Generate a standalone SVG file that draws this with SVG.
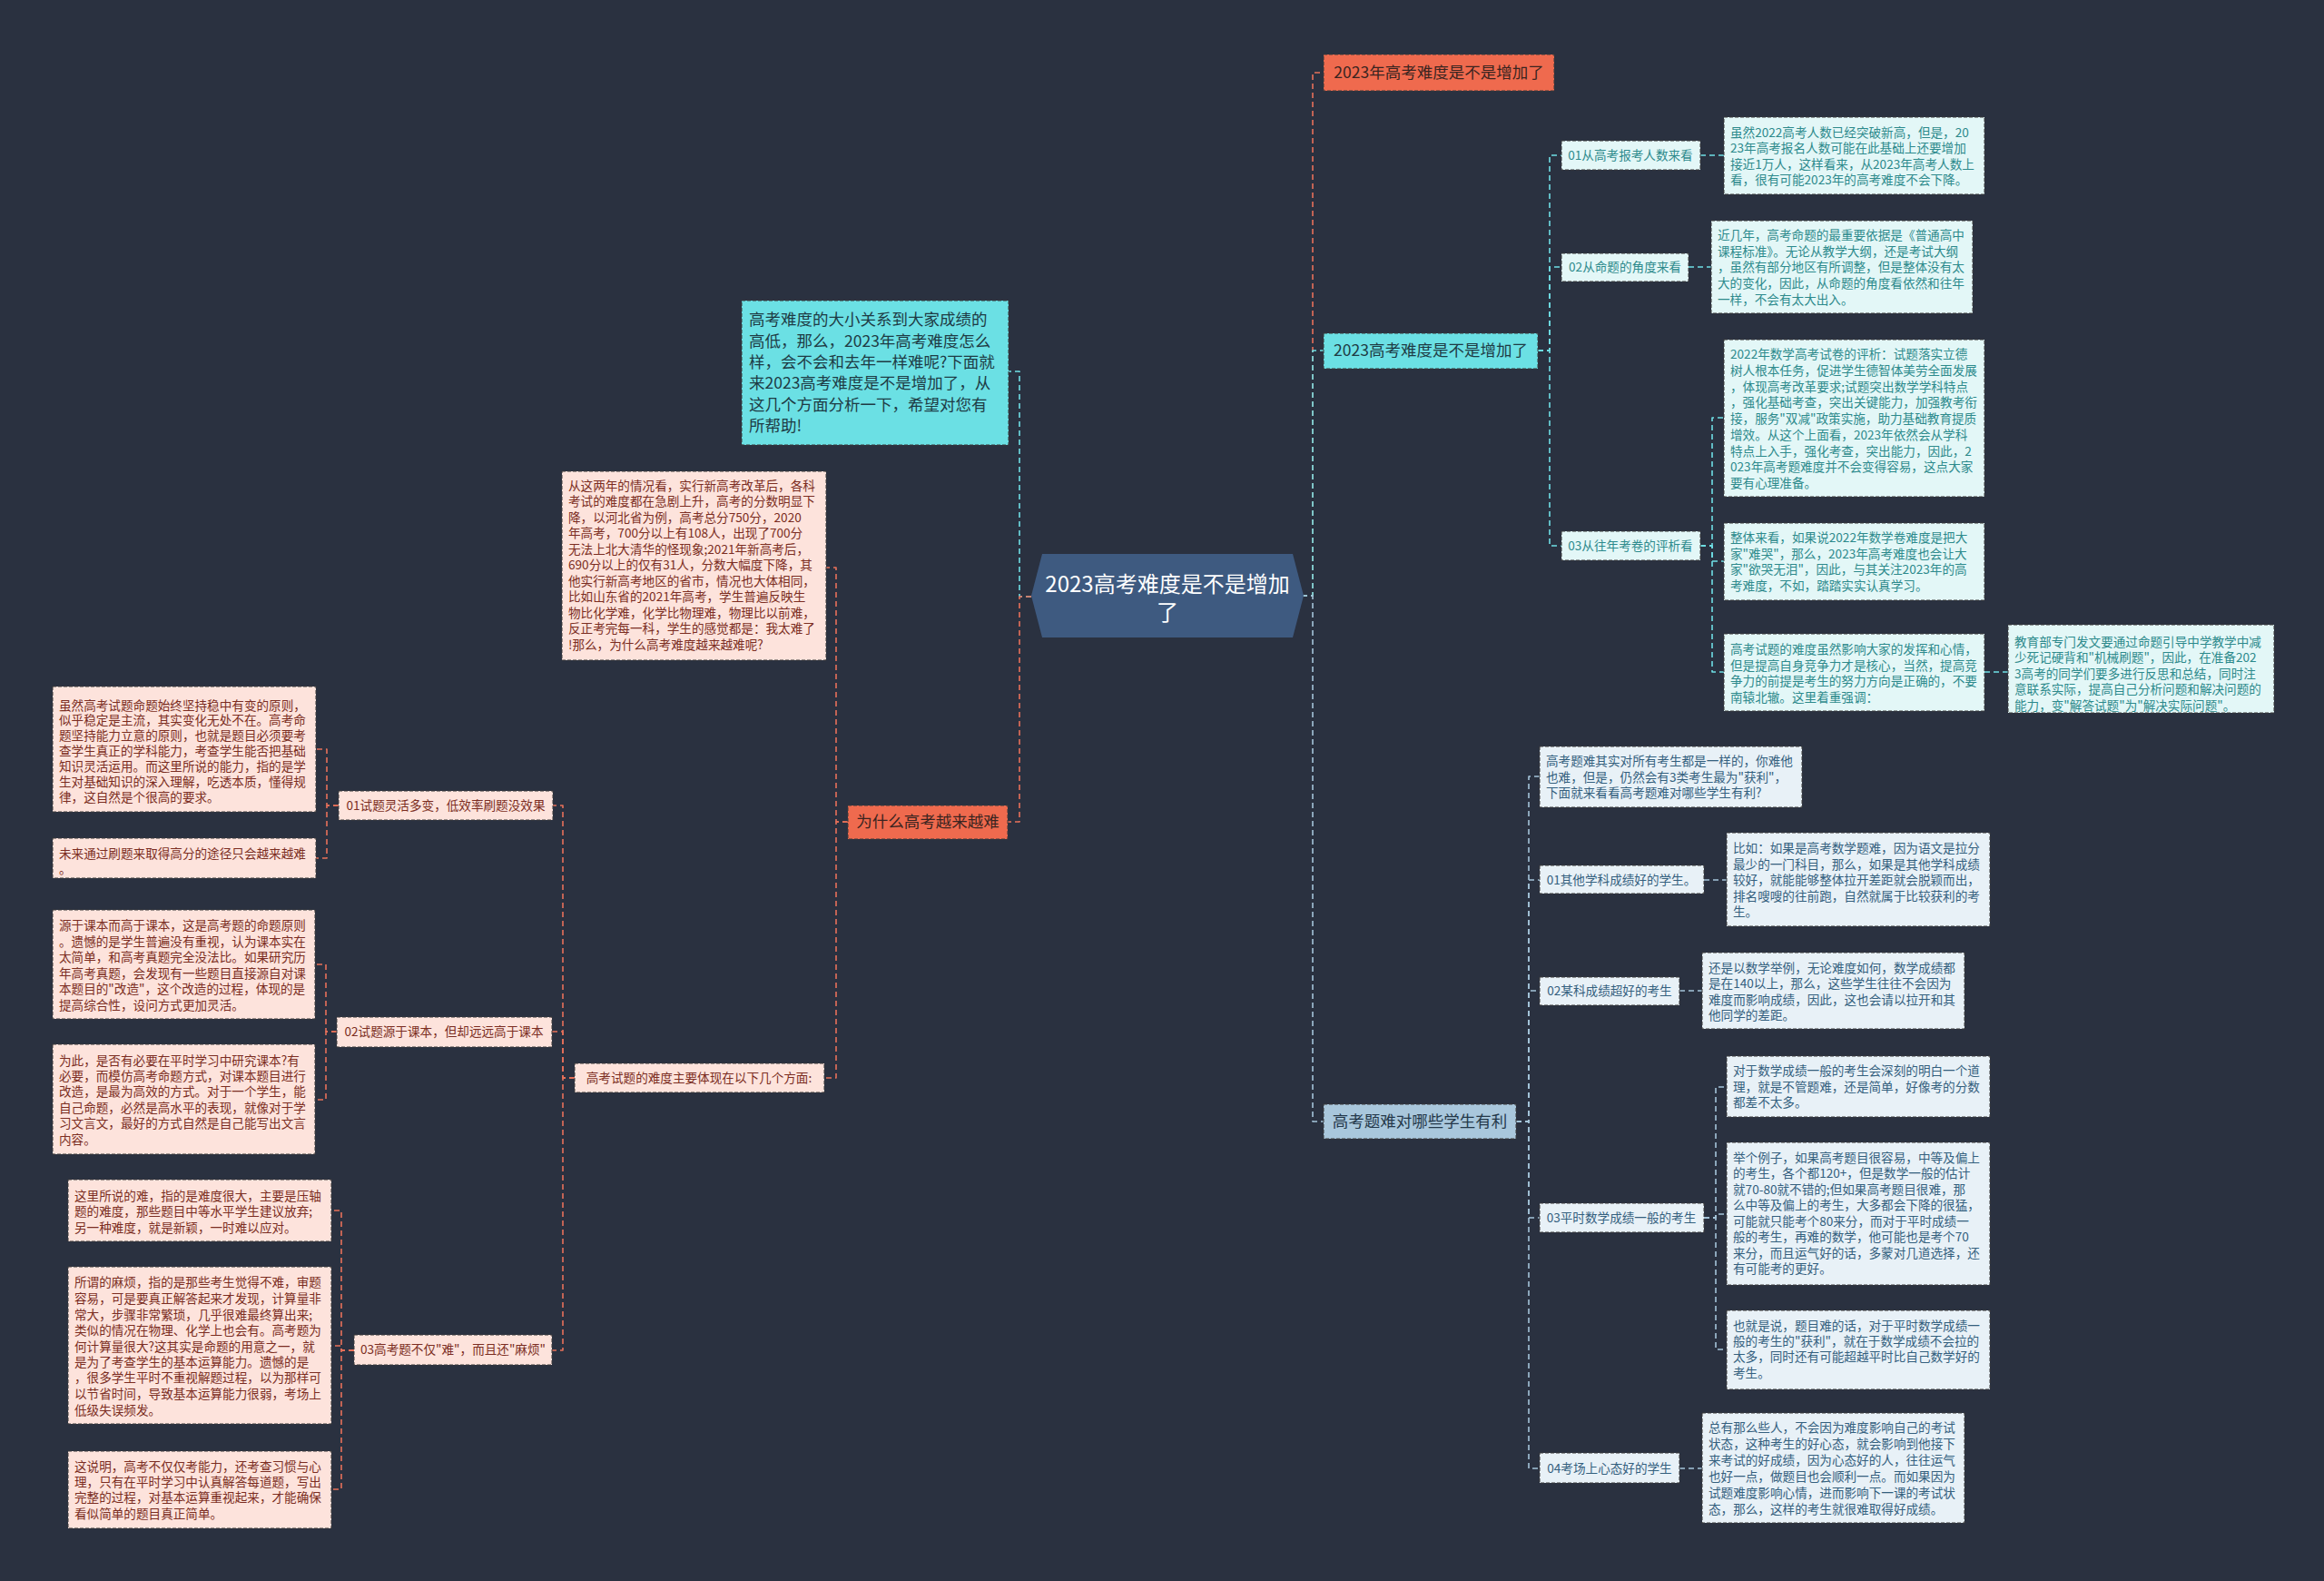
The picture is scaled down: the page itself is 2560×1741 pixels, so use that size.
<svg xmlns="http://www.w3.org/2000/svg" width="2560" height="1741" viewBox="0 0 2560 1741">
<style>
text{font-family:"Noto Sans CJK SC","Noto Sans",sans-serif;}
.c{fill:none;stroke-width:1.6;stroke-dasharray:6 4;stroke-linejoin:round;}
.co{stroke:#e8715a;}
.cc{stroke:#6fdfe5;}
.cb{stroke:#a5c5da;}
.bd{stroke:#3a3a3a;stroke-width:1;stroke-dasharray:4 2;}
.red{fill:#ef6a4e;}
.cy{fill:#6be0e4;}
.bl{fill:#a9c7dc;}
.lc{fill:#e3f7f7;}
.lp{fill:#fde3dc;}
.lb{fill:#e8f1f7;}
.tm{font-size:17.5px;}
.ts{font-size:13.6px;}
.tr{fill:#3a2420;}
.tc{fill:#1e3b44;}
.tcc{fill:#2d8a8c;}
.tp{fill:#7b2d22;}
.tbb{fill:#34607e;}
.tbm{fill:#24384a;}
</style>
<rect width="2560" height="1741" fill="#2a3140"/>

<g id="connectors">
<path class="c cc" d="M1136 657 H1123 V409 H1111"/>
<path class="c co" d="M1136 657 H1123 V905 H1110"/>
<path class="c co" d="M934 905 H921 V625 H910"/>
<path class="c co" d="M934 905 H921 V1187 H908"/>
<path class="c co" d="M633 1187 H620 V887 H609"/>
<path class="c co" d="M633 1187 H620 V1136 H608"/>
<path class="c co" d="M633 1187 H620 V1487 H608"/>
<path class="c co" d="M373 887 H360 V825 H348"/>
<path class="c co" d="M373 887 H360 V945 H348"/>
<path class="c co" d="M371 1136 H359 V1062 H347"/>
<path class="c co" d="M371 1136 H359 V1211 H347"/>
<path class="c co" d="M390 1487 H376 V1333 H365"/>
<path class="c co" d="M390 1487 H376 V1482 H365"/>
<path class="c co" d="M390 1487 H376 V1640 H365"/>
<path class="c co" d="M1434 656 H1446 V80 H1458"/>
<path class="c cc" d="M1434 656 H1446 V386 H1458"/>
<path class="c cb" d="M1434 656 H1446 V1235 H1458"/>
<path class="c cc" d="M1694 386 H1707 V171 H1720"/>
<path class="c cc" d="M1694 386 H1707 V294 H1720"/>
<path class="c cc" d="M1694 386 H1707 V601 H1720"/>
<path class="c cc" d="M1873 171 H1899"/>
<path class="c cc" d="M1860 294 H1885"/>
<path class="c cc" d="M1873 601 H1886 V460 H1899"/>
<path class="c cc" d="M1873 601 H1886 V618 H1899"/>
<path class="c cc" d="M1873 601 H1886 V740 H1899"/>
<path class="c cc" d="M2186 740 H2212"/>
<path class="c cb" d="M1670 1235 H1684 V855 H1696"/>
<path class="c cb" d="M1670 1235 H1684 V969 H1696"/>
<path class="c cb" d="M1670 1235 H1684 V1091 H1696"/>
<path class="c cb" d="M1670 1235 H1684 V1341 H1696"/>
<path class="c cb" d="M1670 1235 H1684 V1617 H1696"/>
<path class="c cb" d="M1877 969 H1902"/>
<path class="c cb" d="M1850 1091 H1875"/>
<path class="c cb" d="M1877 1341 H1890 V1197 H1902"/>
<path class="c cb" d="M1877 1341 H1890 V1337 H1902"/>
<path class="c cb" d="M1877 1341 H1890 V1486 H1902"/>
<path class="c cb" d="M1850 1617 H1875"/>
</g>

<g id="center">
<polygon points="1148,610 1424,610 1436,656 1424,702 1148,702 1136,656" fill="#3e5a80"/>
<text font-size="24" fill="#ffffff" text-anchor="middle"><tspan x="1286" y="652">2023高考难度是不是增加</tspan><tspan x="1286" y="683">了</tspan></text>
</g>

<g id="intro">
<rect class="cy bd" x="817" y="331" width="294" height="159"/>
<text class="tm tc"><tspan x="825" y="358">高考难度的大小关系到大家成绩的</tspan><tspan x="825" y="382">高低，那么，2023年高考难度怎么</tspan><tspan x="825" y="405">样，会不会和去年一样难呢?下面就</tspan><tspan x="825" y="428">来2023高考难度是不是增加了，从</tspan><tspan x="825" y="452">这几个方面分析一下，希望对您有</tspan><tspan x="825" y="475">所帮助!</tspan></text>
</g>

<g id="n-red-top">
<rect class="red bd" x="1458" y="60" width="254" height="40"/>
<text class="tm tr" x="1585" y="86" text-anchor="middle">2023年高考难度是不是增加了</text>
</g>

<g id="n-cyan-main">
<rect class="cy bd" x="1458" y="367" width="236" height="39"/>
<text class="tm tc" x="1576" y="392" text-anchor="middle">2023高考难度是不是增加了</text>
</g>
<g id="n-c01">
<rect class="lc bd" x="1720" y="155" width="153" height="32"/>
<text class="ts tcc" x="1796" y="176" text-anchor="middle">01从高考报考人数来看</text>
</g>
<g id="n-c02">
<rect class="lc bd" x="1720" y="279" width="140" height="31"/>
<text class="ts tcc" x="1790" y="299" text-anchor="middle">02从命题的角度来看</text>
</g>
<g id="n-c03">
<rect class="lc bd" x="1720" y="585" width="153" height="32"/>
<text class="ts tcc" x="1796" y="606" text-anchor="middle">03从往年考卷的评析看</text>
</g>
<g id="l-c1">
<rect class="lc bd" x="1899" y="129" width="287" height="85"/>
<text class="ts tcc"><tspan x="1906" y="151">虽然2022高考人数已经突破新高，但是，20</tspan><tspan x="1906" y="168">23年高考报名人数可能在此基础上还要增加</tspan><tspan x="1906" y="186">接近1万人，这样看来，从2023年高考人数上</tspan><tspan x="1906" y="203">看，很有可能2023年的高考难度不会下降。</tspan></text>
</g>
<g id="l-c2">
<rect class="lc bd" x="1885" y="243" width="288" height="102"/>
<text class="ts tcc"><tspan x="1892" y="264">近几年，高考命题的最重要依据是《普通高中</tspan><tspan x="1892" y="282">课程标准》。无论从教学大纲，还是考试大纲</tspan><tspan x="1892" y="299">，虽然有部分地区有所调整，但是整体没有太</tspan><tspan x="1892" y="317">大的变化，因此，从命题的角度看依然和往年</tspan><tspan x="1892" y="335">一样，不会有太大出入。</tspan></text>
</g>
<g id="l-c3a">
<rect class="lc bd" x="1899" y="374" width="287" height="173"/>
<text class="ts tcc"><tspan x="1906" y="395">2022年数学高考试卷的评析：试题落实立德</tspan><tspan x="1906" y="413">树人根本任务，促进学生德智体美劳全面发展</tspan><tspan x="1906" y="431">，体现高考改革要求;试题突出数学学科特点</tspan><tspan x="1906" y="448">，强化基础考查，突出关键能力，加强教考衔</tspan><tspan x="1906" y="466">接，服务"双减"政策实施，助力基础教育提质</tspan><tspan x="1906" y="484">增效。从这个上面看，2023年依然会从学科</tspan><tspan x="1906" y="502">特点上入手，强化考查，突出能力，因此，2</tspan><tspan x="1906" y="519">023年高考题难度并不会变得容易，这点大家</tspan><tspan x="1906" y="537">要有心理准备。</tspan></text>
</g>
<g id="l-c3b">
<rect class="lc bd" x="1899" y="576" width="287" height="85"/>
<text class="ts tcc"><tspan x="1906" y="597">整体来看，如果说2022年数学卷难度是把大</tspan><tspan x="1906" y="615">家"难哭"，那么，2023年高考难度也会让大</tspan><tspan x="1906" y="632">家"欲哭无泪"，因此，与其关注2023年的高</tspan><tspan x="1906" y="650">考难度，不如，踏踏实实认真学习。</tspan></text>
</g>
<g id="l-c3c">
<rect class="lc bd" x="1899" y="698" width="287" height="85"/>
<text class="ts tcc"><tspan x="1906" y="720">高考试题的难度虽然影响大家的发挥和心情，</tspan><tspan x="1906" y="738">但是提高自身竞争力才是核心，当然，提高竞</tspan><tspan x="1906" y="755">争力的前提是考生的努力方向是正确的，不要</tspan><tspan x="1906" y="773">南辕北辙。这里着重强调：</tspan></text>
</g>
<g id="l-c3c1">
<rect class="lc bd" x="2212" y="688" width="293" height="97"/>
<text class="ts tcc"><tspan x="2219" y="712">教育部专门发文要通过命题引导中学教学中减</tspan><tspan x="2219" y="729">少死记硬背和"机械刷题"，因此，在准备202</tspan><tspan x="2219" y="747">3高考的同学们要多进行反思和总结，同时注</tspan><tspan x="2219" y="764">意联系实际，提高自己分析问题和解决问题的</tspan><tspan x="2219" y="782">能力，变"解答试题"为"解决实际问题"。</tspan></text>
</g>

<g id="n-blue-main">
<rect class="bl bd" x="1458" y="1216" width="212" height="38"/>
<text class="tm tbm" x="1564" y="1241" text-anchor="middle">高考题难对哪些学生有利</text>
</g>
<g id="l-b0">
<rect class="lb bd" x="1696" y="822" width="289" height="67"/>
<text class="ts tbb"><tspan x="1703" y="843">高考题难其实对所有考生都是一样的，你难他</tspan><tspan x="1703" y="861">也难，但是，仍然会有3类考生最为"获利"，</tspan><tspan x="1703" y="878">下面就来看看高考题难对哪些学生有利?</tspan></text>
</g>
<g id="n-b01">
<rect class="lb bd" x="1696" y="953" width="181" height="31"/>
<text class="ts tbb" x="1786" y="974" text-anchor="middle">01其他学科成绩好的学生。</text>
</g>
<g id="n-b02">
<rect class="lb bd" x="1696" y="1076" width="154" height="31"/>
<text class="ts tbb" x="1773" y="1096" text-anchor="middle">02某科成绩超好的考生</text>
</g>
<g id="n-b03">
<rect class="lb bd" x="1696" y="1325" width="181" height="32"/>
<text class="ts tbb" x="1786" y="1346" text-anchor="middle">03平时数学成绩一般的考生</text>
</g>
<g id="n-b04">
<rect class="lb bd" x="1696" y="1600" width="154" height="33"/>
<text class="ts tbb" x="1773" y="1622" text-anchor="middle">04考场上心态好的学生</text>
</g>
<g id="l-b1">
<rect class="lb bd" x="1902" y="917" width="290" height="103"/>
<text class="ts tbb"><tspan x="1909" y="939">比如：如果是高考数学题难，因为语文是拉分</tspan><tspan x="1909" y="957">最少的一门科目，那么，如果是其他学科成绩</tspan><tspan x="1909" y="974">较好，就能能够整体拉开差距就会脱颖而出，</tspan><tspan x="1909" y="992">排名嗖嗖的往前跑，自然就属于比较获利的考</tspan><tspan x="1909" y="1009">生。</tspan></text>
</g>
<g id="l-b2">
<rect class="lb bd" x="1875" y="1049" width="289" height="84"/>
<text class="ts tbb"><tspan x="1882" y="1071">还是以数学举例，无论难度如何，数学成绩都</tspan><tspan x="1882" y="1088">是在140以上，那么，这些学生往往不会因为</tspan><tspan x="1882" y="1106">难度而影响成绩，因此，这也会请以拉开和其</tspan><tspan x="1882" y="1123">他同学的差距。</tspan></text>
</g>
<g id="l-b3a">
<rect class="lb bd" x="1902" y="1163" width="290" height="67"/>
<text class="ts tbb"><tspan x="1909" y="1184">对于数学成绩一般的考生会深刻的明白一个道</tspan><tspan x="1909" y="1202">理，就是不管题难，还是简单，好像考的分数</tspan><tspan x="1909" y="1219">都差不太多。</tspan></text>
</g>
<g id="l-b3b">
<rect class="lb bd" x="1902" y="1258" width="290" height="157"/>
<text class="ts tbb"><tspan x="1909" y="1280">举个例子，如果高考题目很容易，中等及偏上</tspan><tspan x="1909" y="1297">的考生，各个都120+，但是数学一般的估计</tspan><tspan x="1909" y="1315">就70-80就不错的;但如果高考题目很难，那</tspan><tspan x="1909" y="1332">么中等及偏上的考生，大多都会下降的很猛，</tspan><tspan x="1909" y="1350">可能就只能考个80来分，而对于平时成绩一</tspan><tspan x="1909" y="1367">般的考生，再难的数学，他可能也是考个70</tspan><tspan x="1909" y="1385">来分，而且运气好的话，多蒙对几道选择，还</tspan><tspan x="1909" y="1402">有可能考的更好。</tspan></text>
</g>
<g id="l-b3c">
<rect class="lb bd" x="1902" y="1443" width="290" height="87"/>
<text class="ts tbb"><tspan x="1909" y="1465">也就是说，题目难的话，对于平时数学成绩一</tspan><tspan x="1909" y="1482">般的考生的"获利"，就在于数学成绩不会拉的</tspan><tspan x="1909" y="1499">太多，同时还有可能超越平时比自己数学好的</tspan><tspan x="1909" y="1517">考生。</tspan></text>
</g>
<g id="l-b4">
<rect class="lb bd" x="1875" y="1556" width="289" height="121"/>
<text class="ts tbb"><tspan x="1882" y="1577">总有那么些人，不会因为难度影响自己的考试</tspan><tspan x="1882" y="1595">状态，这种考生的好心态，就会影响到他接下</tspan><tspan x="1882" y="1613">来考试的好成绩，因为心态好的人，往往运气</tspan><tspan x="1882" y="1631">也好一点，做题目也会顺利一点。而如果因为</tspan><tspan x="1882" y="1649">试题难度影响心情，进而影响下一课的考试状</tspan><tspan x="1882" y="1667">态，那么，这样的考生就很难取得好成绩。</tspan></text>
</g>

<g id="n-red-why">
<rect class="red bd" x="934" y="887" width="176" height="37"/>
<text class="tm tr" x="1022" y="911" text-anchor="middle">为什么高考越来越难</text>
</g>
<g id="l-p0">
<rect class="lp bd" x="619" y="519" width="291" height="208"/>
<text class="ts tp"><tspan x="626" y="540">从这两年的情况看，实行新高考改革后，各科</tspan><tspan x="626" y="557">考试的难度都在急剧上升，高考的分数明显下</tspan><tspan x="626" y="575">降，以河北省为例，高考总分750分，2020</tspan><tspan x="626" y="592">年高考，700分以上有108人，出现了700分</tspan><tspan x="626" y="610">无法上北大清华的怪现象;2021年新高考后，</tspan><tspan x="626" y="627">690分以上的仅有31人，分数大幅度下降，其</tspan><tspan x="626" y="645">他实行新高考地区的省市，情况也大体相同，</tspan><tspan x="626" y="662">比如山东省的2021年高考，学生普遍反映生</tspan><tspan x="626" y="680">物比化学难，化学比物理难，物理比以前难，</tspan><tspan x="626" y="697">反正考完每一科，学生的感觉都是：我太难了</tspan><tspan x="626" y="715">!那么，为什么高考难度越来越难呢?</tspan></text>
</g>
<g id="n-p-main">
<rect class="lp bd" x="633" y="1171" width="275" height="32"/>
<text class="ts tp" x="770" y="1192" text-anchor="middle">高考试题的难度主要体现在以下几个方面:</text>
</g>
<g id="n-p01">
<rect class="lp bd" x="373" y="871" width="236" height="32"/>
<text class="ts tp" x="491" y="892" text-anchor="middle">01试题灵活多变，低效率刷题没效果</text>
</g>
<g id="n-p02">
<rect class="lp bd" x="371" y="1120" width="237" height="33"/>
<text class="ts tp" x="489" y="1141" text-anchor="middle">02试题源于课本，但却远远高于课本</text>
</g>
<g id="n-p03">
<rect class="lp bd" x="390" y="1470" width="218" height="33"/>
<text class="ts tp" x="499" y="1491" text-anchor="middle">03高考题不仅"难"，而且还"麻烦"</text>
</g>
<g id="l-p1a">
<rect class="lp bd" x="58" y="756" width="290" height="138"/>
<text class="ts tp"><tspan x="65" y="782">虽然高考试题命题始终坚持稳中有变的原则，</tspan><tspan x="65" y="798">似乎稳定是主流，其实变化无处不在。高考命</tspan><tspan x="65" y="815">题坚持能力立意的原则，也就是题目必须要考</tspan><tspan x="65" y="832">查学生真正的学科能力，考查学生能否把基础</tspan><tspan x="65" y="849">知识灵活运用。而这里所说的能力，指的是学</tspan><tspan x="65" y="866">生对基础知识的深入理解，吃透本质，懂得规</tspan><tspan x="65" y="883">律，这自然是个很高的要求。</tspan></text>
</g>
<g id="l-p1b">
<rect class="lp bd" x="58" y="923" width="290" height="44"/>
<text class="ts tp"><tspan x="65" y="945">未来通过刷题来取得高分的途径只会越来越难</tspan><tspan x="65" y="962">。</tspan></text>
</g>
<g id="l-p2a">
<rect class="lp bd" x="58" y="1002" width="289" height="120"/>
<text class="ts tp"><tspan x="65" y="1024">源于课本而高于课本，这是高考题的命题原则</tspan><tspan x="65" y="1042">。遗憾的是学生普遍没有重视，认为课本实在</tspan><tspan x="65" y="1059">太简单，和高考真题完全没法比。如果研究历</tspan><tspan x="65" y="1077">年高考真题，会发现有一些题目直接源自对课</tspan><tspan x="65" y="1094">本题目的"改造"，这个改造的过程，体现的是</tspan><tspan x="65" y="1112">提高综合性，设问方式更加灵活。</tspan></text>
</g>
<g id="l-p2b">
<rect class="lp bd" x="58" y="1150" width="289" height="121"/>
<text class="ts tp"><tspan x="65" y="1173">为此，是否有必要在平时学习中研究课本?有</tspan><tspan x="65" y="1190">必要，而模仿高考命题方式，对课本题目进行</tspan><tspan x="65" y="1207">改造，是最为高效的方式。对于一个学生，能</tspan><tspan x="65" y="1225">自己命题，必然是高水平的表现，就像对于学</tspan><tspan x="65" y="1242">习文言文，最好的方式自然是自己能写出文言</tspan><tspan x="65" y="1260">内容。</tspan></text>
</g>
<g id="l-p3a">
<rect class="lp bd" x="75" y="1299" width="290" height="68"/>
<text class="ts tp"><tspan x="82" y="1322">这里所说的难，指的是难度很大，主要是压轴</tspan><tspan x="82" y="1339">题的难度，那些题目中等水平学生建议放弃;</tspan><tspan x="82" y="1357">另一种难度，就是新颖，一时难以应对。</tspan></text>
</g>
<g id="l-p3b">
<rect class="lp bd" x="75" y="1395" width="290" height="173"/>
<text class="ts tp"><tspan x="82" y="1417">所谓的麻烦，指的是那些考生觉得不难，审题</tspan><tspan x="82" y="1435">容易，可是要真正解答起来才发现，计算量非</tspan><tspan x="82" y="1453">常大，步骤非常繁琐，几乎很难最终算出来;</tspan><tspan x="82" y="1470">类似的情况在物理、化学上也会有。高考题为</tspan><tspan x="82" y="1488">何计算量很大?这其实是命题的用意之一，就</tspan><tspan x="82" y="1505">是为了考查学生的基本运算能力。遗憾的是</tspan><tspan x="82" y="1522">，很多学生平时不重视解题过程，以为那样可</tspan><tspan x="82" y="1540">以节省时间，导致基本运算能力很弱，考场上</tspan><tspan x="82" y="1558">低级失误频发。</tspan></text>
</g>
<g id="l-p3c">
<rect class="lp bd" x="75" y="1598" width="290" height="85"/>
<text class="ts tp"><tspan x="82" y="1620">这说明，高考不仅仅考能力，还考查习惯与心</tspan><tspan x="82" y="1637">理，只有在平时学习中认真解答每道题，写出</tspan><tspan x="82" y="1654">完整的过程，对基本运算重视起来，才能确保</tspan><tspan x="82" y="1672">看似简单的题目真正简单。</tspan></text>
</g>
</svg>
